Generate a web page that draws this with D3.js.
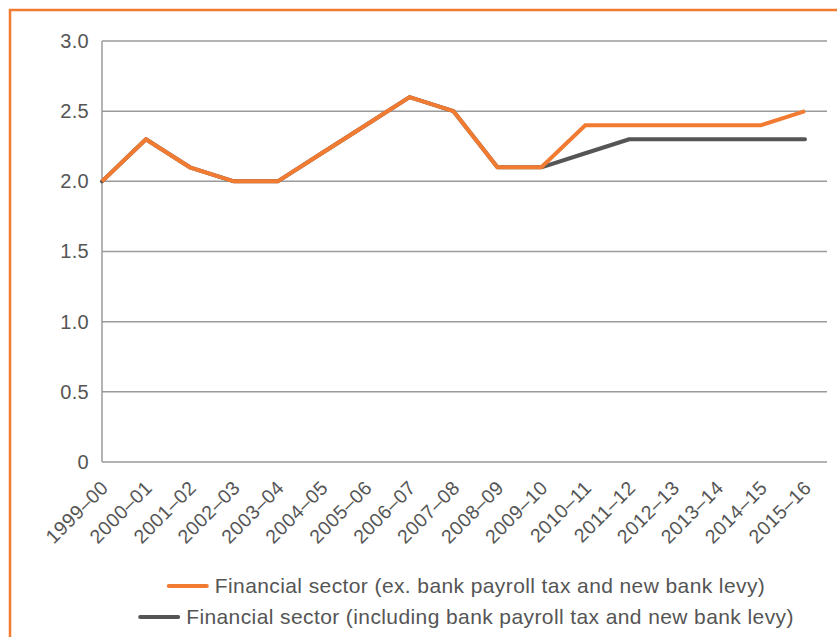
<!DOCTYPE html>
<html>
<head>
<meta charset="utf-8">
<script src="https://cdn.jsdelivr.net/npm/d3@7"></script>
<style>
  html, body { margin: 0; padding: 0; background: #fff; }
  svg { display: block; }
  text { font-family: "Liberation Sans", Arial, Helvetica, sans-serif; fill: #555; }
</style>
</head>
<body>
<svg id="chart" width="837" height="637"></svg>
<script>
// Financial sector share, by financial year
const years = ["1999–00","2000–01","2001–02","2002–03","2003–04","2004–05","2005–06","2006–07",
               "2007–08","2008–09","2009–10","2010–11","2011–12","2012–13","2013–14","2014–15","2015–16"];
const exLevy   = [2.0, 2.3, 2.1, 2.0, 2.0, 2.2, 2.4, 2.6, 2.5, 2.1, 2.1, 2.4, 2.4, 2.4, 2.4, 2.4, 2.5];
const inclLevy = [2.0, 2.3, 2.1, 2.0, 2.0, 2.2, 2.4, 2.6, 2.5, 2.1, 2.1, 2.2, 2.3, 2.3, 2.3, 2.3, 2.3];
const yTicks = [0, 0.5, 1.0, 1.5, 2.0, 2.5, 3.0];
const seriesNames = [
  "Financial sector (ex. bank payroll tax and new bank levy)",
  "Financial sector (including bank payroll tax and new bank levy)"
];

const ORANGE = "#F27B32";
const DARK = "#555555";
const GRID = "#9a9a9a";
const FONT = '"Liberation Sans", Arial, sans-serif';

const svg = d3.select("#chart");

// outer frame
svg.append("rect")
  .attr("x", 10).attr("y", 10)
  .attr("width", 900).attr("height", 700)
  .attr("fill", "none").attr("stroke", ORANGE).attr("stroke-width", 2.5);

const plot = { left: 102, right: 827, top: 41, bottom: 462 };

const x = d3.scalePoint().domain(years).range([plot.left, 805]);
const y = d3.scaleLinear().domain([0, 3]).range([plot.bottom, plot.top]);

// horizontal gridlines
svg.append("g")
  .selectAll("line")
  .data(yTicks)
  .join("line")
  .attr("x1", plot.left).attr("x2", plot.right)
  .attr("y1", d => y(d)).attr("y2", d => y(d))
  .attr("stroke", GRID).attr("stroke-width", 1.5);

// vertical axis line
svg.append("line")
  .attr("x1", plot.left).attr("x2", plot.left)
  .attr("y1", plot.top).attr("y2", plot.bottom)
  .attr("stroke", GRID).attr("stroke-width", 1.5);

// y axis labels
const yAxis = d3.axisLeft(y).tickValues(yTicks)
  .tickFormat(d => d === 0 ? "0" : d3.format(".1f")(d))
  .tickSize(0).tickPadding(13);
const gy = svg.append("g").attr("transform", `translate(${plot.left},0)`).call(yAxis);
gy.select(".domain").remove();
gy.selectAll("text").attr("font-size", 20).style("fill", "#555")
  .style("font-family", FONT).style("letter-spacing", "0.3px");

// x axis labels, rotated
const xAxis = d3.axisBottom(x).tickSize(0).tickPadding(0);
const gx = svg.append("g").attr("transform", `translate(0,${plot.bottom})`).call(xAxis);
gx.select(".domain").remove();
gx.selectAll("text")
  .attr("font-size", 19.5)
  .style("fill", "#555")
  .style("font-family", FONT)
  .style("letter-spacing", "0.4px")
  .attr("text-anchor", "end")
  .attr("dy", null)
  .attr("y", 0)
  .attr("transform", "translate(7,27) rotate(-45)");

// series lines
const line = d3.line().x((d, i) => x(years[i])).y(d => y(d));

svg.append("path")
  .datum(inclLevy)
  .attr("d", line)
  .attr("fill", "none").attr("stroke", DARK)
  .attr("stroke-width", 4).attr("stroke-linecap", "round").attr("stroke-linejoin", "round");

svg.append("path")
  .datum(exLevy)
  .attr("d", line)
  .attr("fill", "none").attr("stroke", ORANGE)
  .attr("stroke-width", 4).attr("stroke-linecap", "butt").attr("stroke-linejoin", "miter");

// legend
const legend = [
  { name: seriesNames[0], color: ORANGE, y: 586 },
  { name: seriesNames[1], color: DARK, y: 617 }
];
const lg = svg.append("g");
legend.forEach(item => {
  const t = lg.append("text")
    .attr("y", item.y).attr("dy", "0.35em")
    .attr("font-size", 21)
    .style("fill", "#555")
    .style("letter-spacing", "0.4px")
    .text(item.name);
  const w = t.node().getComputedTextLength();
  const total = 38 + 8 + w;
  const start = 467 - total / 2;
  t.attr("x", start + 46);
  lg.append("line")
    .attr("x1", start).attr("x2", start + 38)
    .attr("y1", item.y).attr("y2", item.y)
    .attr("stroke", item.color).attr("stroke-width", 4).attr("stroke-linecap", "round");
});
</script>
</body>
</html>
